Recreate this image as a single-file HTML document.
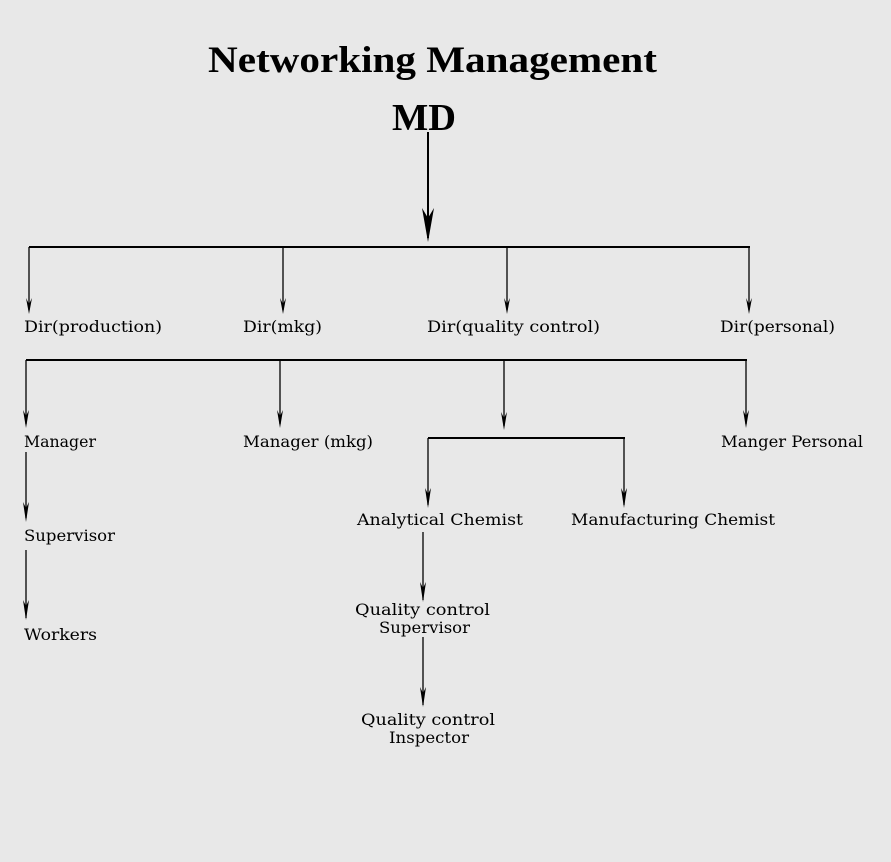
<!DOCTYPE html>
<html><head><meta charset="utf-8"><style>
html,body{margin:0;padding:0;background:#e8e8e8;}
svg{display:block;}
text{font-family:"DejaVu Serif","Liberation Serif",serif;fill:#000;}
.t{font-family:"Liberation Serif","DejaVu Serif",serif;}
.l{font-size:16px;}
</style></head><body>
<svg width="891" height="862" viewBox="0 0 891 862" xmlns="http://www.w3.org/2000/svg">
<rect width="891" height="862" fill="#e8e8e8"/>
<g stroke="#000" fill="none">
<line x1="428" y1="132" x2="428" y2="238" stroke-width="2"/>
<line x1="29" y1="247" x2="750" y2="247" stroke-width="2"/>
<line x1="29" y1="247" x2="29" y2="310" stroke-width="1.3"/>
<line x1="283" y1="247" x2="283" y2="310" stroke-width="1.3"/>
<line x1="507" y1="247" x2="507" y2="310" stroke-width="1.3"/>
<line x1="749" y1="247" x2="749" y2="310" stroke-width="1.3"/>
<line x1="26" y1="360" x2="747" y2="360" stroke-width="2"/>
<line x1="26" y1="360" x2="26" y2="424" stroke-width="1.3"/>
<line x1="280" y1="360" x2="280" y2="424" stroke-width="1.3"/>
<line x1="504" y1="360" x2="504" y2="426" stroke-width="1.3"/>
<line x1="746" y1="360" x2="746" y2="424" stroke-width="1.3"/>
<line x1="428" y1="438" x2="625" y2="438" stroke-width="2"/>
<line x1="428" y1="438" x2="428" y2="505" stroke-width="1.3"/>
<line x1="624" y1="438" x2="624" y2="505" stroke-width="1.3"/>
<line x1="26" y1="452" x2="26" y2="518" stroke-width="1.3"/>
<line x1="26" y1="550" x2="26" y2="618" stroke-width="1.3"/>
<line x1="423" y1="532" x2="423" y2="600" stroke-width="1.3"/>
<line x1="423" y1="637" x2="423" y2="705" stroke-width="1.3"/>
</g>
<g fill="#000">
<path d="M422,208 L428,242 L434,208 L428,218 Z"/>
<path d="M26,298 L29,314 L32,298 L29,304 Z"/>
<path d="M280,298 L283,314 L286,298 L283,304 Z"/>
<path d="M504,298 L507,314 L510,298 L507,304 Z"/>
<path d="M746,298 L749,314 L752,298 L749,304 Z"/>
<path d="M23,410 L26,428 L29,410 L26,416 Z"/>
<path d="M277,410 L280,428 L283,410 L280,416 Z"/>
<path d="M501,412 L504,430 L507,412 L504,418 Z"/>
<path d="M743,410 L746,428 L749,410 L746,416 Z"/>
<path d="M425,488 L428,508 L431,488 L428,494 Z"/>
<path d="M621,488 L624,508 L627,488 L624,494 Z"/>
<path d="M23,502 L26,522 L29,502 L26,508 Z"/>
<path d="M23,600 L26,620 L29,600 L26,606 Z"/>
<path d="M420,582 L423,602 L426,582 L423,588 Z"/>
<path d="M420,687 L423,707 L426,687 L423,693 Z"/>
</g>
<text class="t" x="208" y="72" font-size="37" font-weight="bold" textLength="449" lengthAdjust="spacingAndGlyphs">Networking Management</text>
<text class="t" x="392" y="130" font-size="38" font-weight="bold" textLength="64" lengthAdjust="spacingAndGlyphs">MD</text>
<g class="l">
<text x="24" y="332" textLength="138" lengthAdjust="spacingAndGlyphs">Dir(production)</text>
<text x="243" y="332" textLength="79" lengthAdjust="spacingAndGlyphs">Dir(mkg)</text>
<text x="427" y="332" textLength="173" lengthAdjust="spacingAndGlyphs">Dir(quality control)</text>
<text x="720" y="332" textLength="115" lengthAdjust="spacingAndGlyphs">Dir(personal)</text>
<text x="24" y="447" textLength="72" lengthAdjust="spacingAndGlyphs">Manager</text>
<text x="243" y="447" textLength="130" lengthAdjust="spacingAndGlyphs">Manager (mkg)</text>
<text x="721" y="447" textLength="142" lengthAdjust="spacingAndGlyphs">Manger Personal</text>
<text x="357" y="525" textLength="166" lengthAdjust="spacingAndGlyphs">Analytical Chemist</text>
<text x="571" y="525" textLength="204" lengthAdjust="spacingAndGlyphs">Manufacturing Chemist</text>
<text x="24" y="541" textLength="91" lengthAdjust="spacingAndGlyphs">Supervisor</text>
<text x="24" y="640" textLength="73" lengthAdjust="spacingAndGlyphs">Workers</text>
<text x="355" y="615" textLength="135" lengthAdjust="spacingAndGlyphs">Quality control</text>
<text x="379" y="633" textLength="91" lengthAdjust="spacingAndGlyphs">Supervisor</text>
<text x="361" y="725" textLength="134" lengthAdjust="spacingAndGlyphs">Quality control</text>
<text x="389" y="743" textLength="80" lengthAdjust="spacingAndGlyphs">Inspector</text>
</g>
</svg>
</body></html>
